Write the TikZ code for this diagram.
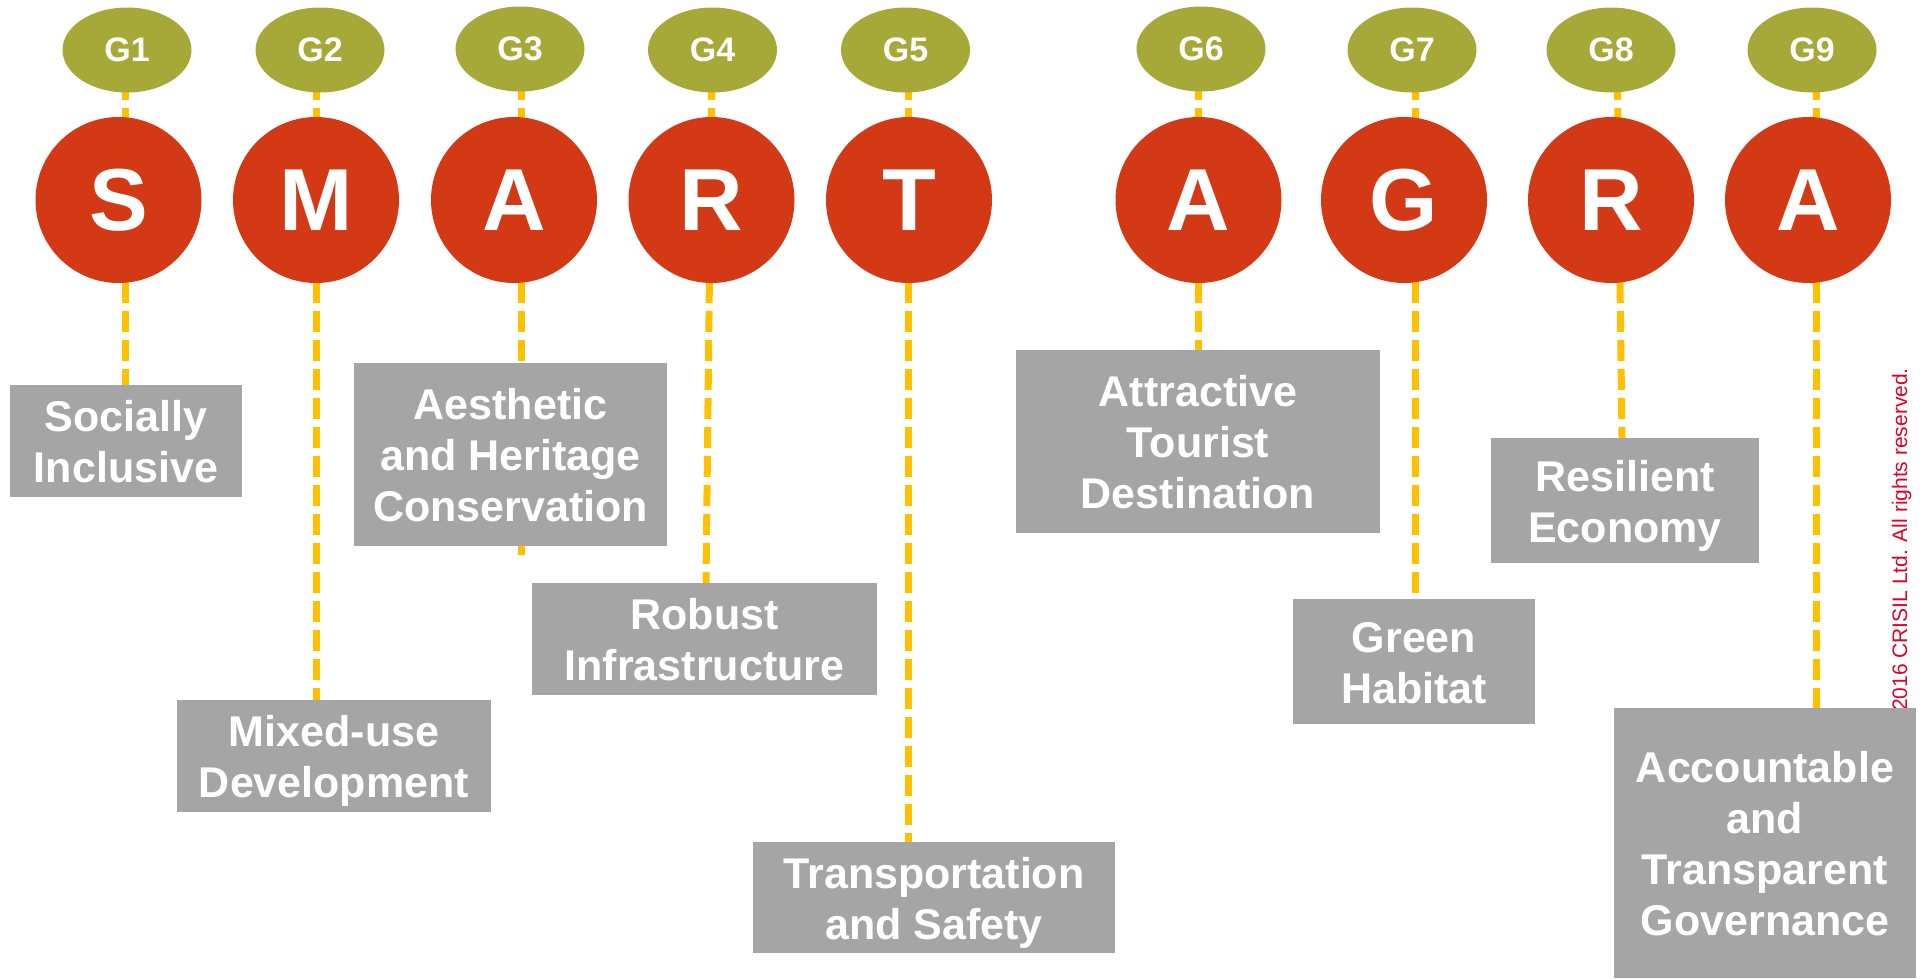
\documentclass[tikz,border=0pt]{standalone}
\usepackage{fontspec}
\setmainfont{Liberation Sans}
\usetikzlibrary{shapes.geometric}
\pgfdeclarelayer{bg}
\pgfsetlayers{bg,main}
\definecolor{goalc}{RGB}{166,168,56}
\definecolor{letterc}{RGB}{212,57,22}
\definecolor{dashc}{RGB}{255,192,0}
\definecolor{boxc}{RGB}{165,165,165}
\definecolor{copyred}{RGB}{224,0,40}
\newcommand{\bt}[1]{\raisebox{-6pt}[\height][\depth]{\begin{tabular}{@{}c@{}}#1\end{tabular}}}
\begin{document}
\begin{tikzpicture}[x=1pt,y=-1pt,
 goalnode/.style={ellipse, fill=goalc, minimum width=129pt, minimum height=85pt, inner sep=0pt, text=white, font=\fontsize{34}{40}\selectfont\bfseries},
 letternode/.style={circle, fill=letterc, minimum size=166pt, inner sep=0pt, text=white, font=\fontsize{88}{100}\selectfont\bfseries},
 textbox/.style={rectangle, fill=boxc, inner sep=0pt, text=white, font=\fontsize{43}{51}\selectfont\bfseries},
 link/.style={draw=dashc, line width=7pt, dash pattern=on 21pt off 8pt}
]
\useasboundingbox (0,0) rectangle (1925,978);

% goal ellipses
\node[goalnode] (g1) at (127,50) {G1};
\node[goalnode] (g2) at (320,50) {G2};
\node[goalnode] (g3) at (520,49) {G3};
\node[goalnode] (g4) at (712.5,50) {G4};
\node[goalnode] (g5) at (905.5,50) {G5};
\node[goalnode] (g6) at (1201,49) {G6};
\node[goalnode] (g7) at (1412,50) {G7};
\node[goalnode] (g8) at (1611,50) {G8};
\node[goalnode] (g9) at (1812,50) {G9};

% letter circles
\node[letternode] (c1) at (118.5,200) {S};
\node[letternode] (c2) at (316,200) {M};
\node[letternode] (c3) at (514,200) {A};
\node[letternode] (c4) at (711.5,200) {R};
\node[letternode] (c5) at (909,200) {T};
\node[letternode] (c6) at (1198.5,200) {A};
\node[letternode] (c7) at (1404,200) {G};
\node[letternode] (c8) at (1611,200) {R};
\node[letternode] (c9) at (1808,200) {A};

% text boxes
\node[textbox, minimum width=232pt, minimum height=112pt] (b1) at (126,441) {\bt{Socially\\Inclusive}};
\node[textbox, minimum width=314pt, minimum height=112pt] (b2) at (334,756) {\bt{Mixed-use\\Development}};
\node[textbox, minimum width=313pt, minimum height=183pt] (b3) at (510.5,454.5) {\bt{Aesthetic\\and Heritage\\Conservation}};
\node[textbox, minimum width=345pt, minimum height=112pt] (b4) at (704.5,639) {\bt{Robust\\Infrastructure}};
\node[textbox, minimum width=362pt, minimum height=111pt] (b5) at (934,897.5) {\bt{Transportation\\and Safety}};
\node[textbox, minimum width=364pt, minimum height=183pt] (b6) at (1198,441.5) {\bt{Attractive\\Tourist\\Destination}};
\node[textbox, minimum width=242pt, minimum height=125pt] (b7) at (1414,661.5) {\bt{Green\\Habitat}};
\node[textbox, minimum width=268pt, minimum height=125pt] (b8) at (1625,500.5) {\bt{Resilient\\Economy}};
\node[textbox, minimum width=302pt, minimum height=270pt] (b9) at (1765,843) {\bt{Accountable\\and\\Transparent\\Governance}};

% line tops
\coordinate (t1) at (125,50);
\coordinate (t2) at (316,50);
\coordinate (t3) at (521,50);
\coordinate (t4) at (712,50);
\coordinate (t5) at (908,50);
\coordinate (t6) at (1198,50);
\coordinate (t7) at (1415,50);
\coordinate (t8) at (1617,50);
\coordinate (t9) at (1816,50);
\coordinate (e3) at (521,555);

\begin{pgfonlayer}{bg}
% dashed connectors
\draw[link] (t1) -- (t1 |- b1.north);
\draw[link] (t2) -- (t2 |- b2.north);
\draw[link] (t3) -- (e3);
\draw[link] (t4) -- ([xshift=1.5pt]b4.north);
\draw[link] (t5) -- (t5 |- b5.north);
\draw[link] (t6) -- (b6.north);
\draw[link] (t7) -- (t7 |- b7.north);
\draw[link] (t8) -- ([xshift=-3pt]b8.north);
\draw[link] (t9) -- (t9 |- b9.north);
% copyright
\node[rotate=90, anchor=base east, text=copyred, inner sep=0pt, font=\fontsize{21}{25}\selectfont] (copy) at (1907,368) {©2016 CRISIL Ltd. All rights reserved.};
\end{pgfonlayer}
\end{tikzpicture}
\end{document}
